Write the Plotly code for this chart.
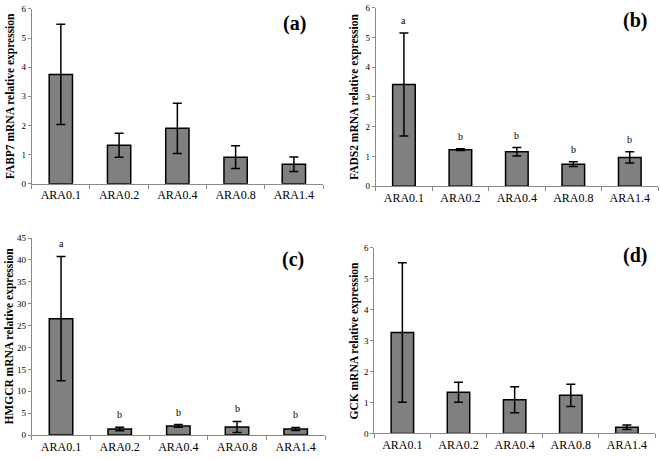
import plotly.graph_objects as go

categories = ["ARA0.1", "ARA0.2", "ARA0.4", "ARA0.8", "ARA1.4"]

fabp7_mean = [3.75, 1.32, 1.90, 0.91, 0.67]
fabp7_err = [1.72, 0.41, 0.86, 0.39, 0.25]

fads2_mean = [3.42, 1.23, 1.16, 0.74, 0.97]
fads2_err = [1.73, 0.03, 0.14, 0.08, 0.19]
fads2_letters = ["a", "b", "b", "b", "b"]

hmgcr_mean = [26.6, 1.4, 2.1, 1.85, 1.4]
hmgcr_err_plus = [14.2, 0.4, 0.3, 1.27, 0.35]
hmgcr_err_minus = [14.2, 0.4, 0.3, 1.27, 0.35]
hmgcr_letters = ["a", "b", "b", "b", "b"]

gck_mean = [3.26, 1.33, 1.09, 1.23, 0.20]
gck_err = [2.25, 0.32, 0.42, 0.36, 0.07]

panels = [
    dict(mean=fabp7_mean, ep=fabp7_err, em=fabp7_err, letters=None,
         title="FABP7 mRNA relative expression", label="(a)", ymax=6, dtick=1),
    dict(mean=fads2_mean, ep=fads2_err, em=fads2_err, letters=fads2_letters,
         title="FADS2 mRNA relative expression", label="(b)", ymax=6, dtick=1),
    dict(mean=hmgcr_mean, ep=hmgcr_err_plus, em=hmgcr_err_minus, letters=hmgcr_letters,
         title="HMGCR mRNA relative expression", label="(c)", ymax=45, dtick=5),
    dict(mean=gck_mean, ep=gck_err, em=gck_err, letters=None,
         title="GCK mRNA relative expression", label="(d)", ymax=6, dtick=1),
]

W, H = 660, 459
# pixel boxes: left, right, top, bottom
boxes = [(31.7, 323, 4, 182.7), (375.7, 658, 2.7, 185.3),
         (31.7, 325, 238.3, 439.7), (374.3, 655, 248, 438)]
title_x = [10, 355, 10, 355]
label_pos = [(294.5, 19), (635, 16), (293, 260), (635, 256)]

FONT = "Liberation Serif"
fig = go.Figure()
annotations = []
for i, (p, b) in enumerate(zip(panels, boxes)):
    n = "" if i == 0 else str(i + 1)
    xa, ya = "x" + n, "y" + n
    fig.add_trace(go.Bar(
        x=categories, y=p["mean"], xaxis=xa, yaxis=ya, width=0.4,
        marker=dict(color="#808080", line=dict(color="#000000", width=1.5)),
        error_y=dict(type="data", symmetric=False, array=p["ep"], arrayminus=p["em"],
                     color="#000000", thickness=1.5, width=4.5),
        showlegend=False, hoverinfo="x+y",
    ))
    l, r, t, bt = b
    fig.layout["xaxis" + n] = dict(
        domain=[l / W, r / W], anchor=ya, type="category",
        showline=True, linecolor="#8a8a8a", linewidth=1,
        ticks="outside", tickson="boundaries", ticklen=4, tickcolor="#8a8a8a",
        tickfont=dict(family=FONT, size=12, color="#000000"),
        showgrid=False, zeroline=False, fixedrange=True,
    )
    fig.layout["yaxis" + n] = dict(
        domain=[1 - bt / H, 1 - t / H], anchor=xa, range=[0, p["ymax"]],
        dtick=p["dtick"], showline=True, linecolor="#8a8a8a", linewidth=1,
        ticks="outside", ticklen=3, tickcolor="#8a8a8a",
        tickfont=dict(family=FONT, size=9, color="#000000"),
        showgrid=False, zeroline=False, fixedrange=True,
    )
    cy = (t + bt) / 2
    annotations.append(dict(
        text="<b>%s</b>" % p["title"], x=title_x[i] / W, y=1 - cy / H,
        xref="paper", yref="paper", textangle=-90, showarrow=False,
        font=dict(family=FONT, size=11.5, color="#000000"),
        xanchor="center", yanchor="middle",
    ))
    lx, ly = label_pos[i]
    annotations.append(dict(
        text="<b>%s</b>" % p["label"], x=lx / W, y=1 - ly / H,
        xref="paper", yref="paper", showarrow=False,
        font=dict(family=FONT, size=20, color="#000000"),
        xanchor="center", yanchor="middle",
    ))
    if p["letters"]:
        for c, m, e, s in zip(categories, p["mean"], p["ep"], p["letters"]):
            annotations.append(dict(
                text=s, x=c, y=m + e, xref=xa, yref=ya, showarrow=False,
                yanchor="bottom", yshift=5,
                font=dict(family=FONT, size=10, color="#000000"),
            ))

fig.update_layout(
    width=W, height=H, margin=dict(l=0, r=0, t=0, b=0),
    paper_bgcolor="white", plot_bgcolor="white",
    annotations=annotations, bargap=0.6,
)
fig.write_html("out.html", config={"displayModeBar": False},
               post_script="document.body.style.margin='0';document.body.style.overflow='hidden';")
